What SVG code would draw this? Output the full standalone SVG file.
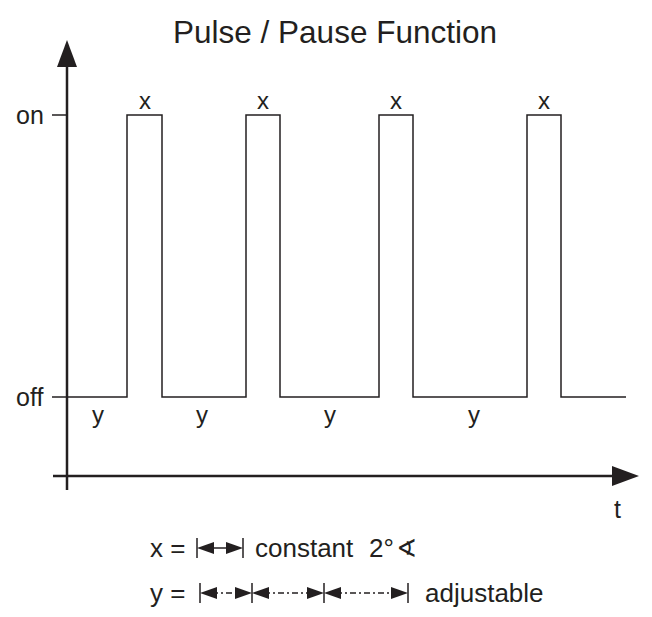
<svg xmlns="http://www.w3.org/2000/svg" width="652" height="617" viewBox="0 0 652 617">
<style>
text{font-family:"Liberation Sans",Arial,sans-serif;fill:#231f20}
.lbl{font-size:24px}
.ax-lbl{font-size:25px}
.leg{font-size:26px}
.ln{stroke:#231f20;stroke-width:1.5;fill:none}
.ax{stroke:#231f20;stroke-width:2.5;fill:none}
.dd{stroke:#231f20;stroke-width:1.4;fill:none;stroke-dasharray:6 3 2 3}
.hd{fill:#231f20}
</style>
<rect width="652" height="617" fill="#fff"/>
<text x="335" y="42.5" font-size="31.5" text-anchor="middle">Pulse / Pause Function</text>
<g id="axes">
<line class="ax" x1="67" y1="490" x2="67" y2="64"/>
<path class="hd" d="M67,40 L57,67 L77,67 Z"/>
<line class="ax" x1="53" y1="476" x2="615" y2="476"/>
<path class="hd" d="M639,476 L612,466 L612,486 Z"/>
<line class="ln" x1="52" y1="115" x2="67" y2="115"/>
<line class="ln" x1="52" y1="397" x2="67" y2="397"/>
<text class="ax-lbl" x="16" y="124">on</text>
<text class="ax-lbl" x="16" y="406">off</text>
<text class="ax-lbl" x="614" y="518">t</text>
</g>
<g id="signal">
<path class="ln" d="M67,397 H127 V115 H162 V397 H246 V115 H280 V397 H379 V115 H413 V397 H527 V115 H561 V397 H626"/>
</g>
<g id="labels">
<text class="lbl" x="145" y="109" text-anchor="middle">x</text>
<text class="lbl" x="263" y="109" text-anchor="middle">x</text>
<text class="lbl" x="396" y="109" text-anchor="middle">x</text>
<text class="lbl" x="544" y="109" text-anchor="middle">x</text>
<text class="lbl" x="98" y="423" text-anchor="middle">y</text>
<text class="lbl" x="202" y="423" text-anchor="middle">y</text>
<text class="lbl" x="330" y="423" text-anchor="middle">y</text>
<text class="lbl" x="474" y="423" text-anchor="middle">y</text>
</g>
<g id="legend-x">
<text class="leg" x="150" y="557">x =</text>
<line class="ln" x1="197" y1="538" x2="197" y2="558"/>
<line class="ln" x1="243" y1="538" x2="243" y2="558"/>
<line class="ln" x1="205" y1="548" x2="235" y2="548"/>
<path class="hd" d="M197,548 L214,542 L214,554 Z"/>
<path class="hd" d="M243,548 L226,542 L226,554 Z"/>
<text class="leg" x="255" y="557">constant</text>
<text class="leg" x="369" y="557">2°</text>
<text x="396" y="557" style="font-family:'DejaVu Sans',sans-serif;font-size:25px">∢</text>
</g>
<g id="legend-y">
<text class="leg" x="150" y="602">y =</text>
<line class="ln" x1="200" y1="583" x2="200" y2="603"/>
<line class="ln" x1="252" y1="583" x2="252" y2="603"/>
<line class="ln" x1="324" y1="583" x2="324" y2="603"/>
<line class="ln" x1="408" y1="583" x2="408" y2="603"/>
<line class="dd" x1="212" y1="593" x2="240" y2="593"/>
<line class="dd" x1="264" y1="593" x2="312" y2="593"/>
<line class="dd" x1="336" y1="593" x2="396" y2="593"/>
<path class="hd" d="M200,593 L217,587 L217,599 Z"/>
<path class="hd" d="M252,593 L235,587 L235,599 Z"/>
<path class="hd" d="M252,593 L269,587 L269,599 Z"/>
<path class="hd" d="M324,593 L307,587 L307,599 Z"/>
<path class="hd" d="M324,593 L341,587 L341,599 Z"/>
<path class="hd" d="M408,593 L391,587 L391,599 Z"/>
<text class="leg" x="425" y="602">adjustable</text>
</g>
</svg>
